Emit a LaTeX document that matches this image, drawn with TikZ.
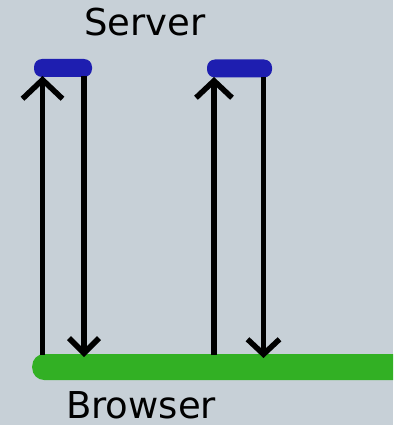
\documentclass[tikz,border=0pt]{standalone}
\usepackage{fontspec}
\setmainfont{DejaVu Sans}
\usetikzlibrary{arrows.meta}
\definecolor{bg}{HTML}{C7D0D7}
\definecolor{srvblue}{HTML}{1E1EB0}
\definecolor{brgreen}{HTML}{32B024}
\tikzset{
  bar/.style={inner sep=0pt, rounded corners=8pt},
  upline/.style={line width=5.5pt, -{Straight Barb[length=19pt,width=40pt,line width=5.5pt]}},
  downline/.style={line width=5.5pt, -{Straight Barb[length=15pt,width=30pt,line width=5.5pt]}},
  lbl/.style={font=\fontsize{37}{40}\selectfont, inner sep=0pt}
}
\begin{document}
\begin{tikzpicture}[x=1pt,y=-1pt]
\fill[bg] (0,0) rectangle (393,425);
\useasboundingbox (0,0) rectangle (393,425);
\node[lbl, anchor=base] (srv) at (145,36) {Server};
\node[lbl, anchor=base] (brw) at (141,418) {Browser};
\node[bar, fill=srvblue, minimum width=58pt, minimum height=18pt] (s1) at (63,68) {};
\node[bar, fill=srvblue, minimum width=65pt, minimum height=18pt] (s2) at (239.5,68.5) {};
\begin{scope}
\clip (0,0) rectangle (393,425);
\node[bar, fill=brgreen, rounded corners=12pt, minimum width=380pt, minimum height=26pt, anchor=west] (br) at (32,367) {};
\end{scope}
\coordinate (u1b) at (42.5,355);
\coordinate (u1t) at (42.5,76);
\coordinate (d1t) at (84,76);
\coordinate (d1b) at (84,357);
\coordinate (u2b) at (214,355);
\coordinate (u2t) at (214,77);
\coordinate (d2t) at (263.5,77);
\coordinate (d2b) at (263.5,358);
\draw[upline] (u1b) -- (u1t);
\draw[downline] (d1t) -- (d1b);
\draw[upline, -{Straight Barb[length=17pt,width=36pt,line width=5.5pt]}] (u2b) -- (u2t);
\draw[downline, -{Straight Barb[length=15pt,width=32pt,line width=5.5pt]}] (d2t) -- (d2b);
\end{tikzpicture}
\end{document}
